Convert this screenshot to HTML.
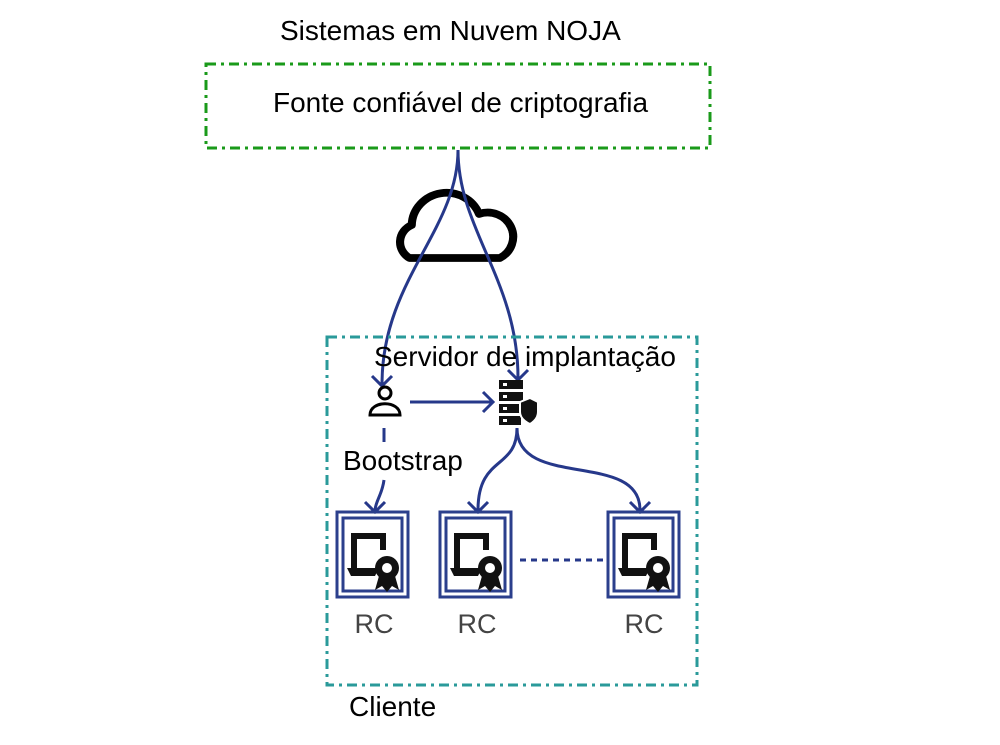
<!DOCTYPE html>
<html><head><meta charset="utf-8"><style>body{margin:0;background:#fff}svg{display:block}text{font-family:"Liberation Sans",sans-serif}</style></head><body>
<svg width="1000" height="745" viewBox="0 0 1000 745">
<defs>
<g id="rc">
<rect x="0" y="0" width="71" height="85" fill="none" stroke="#2b3f8c" stroke-width="3"/>
<rect x="6" y="6" width="59" height="73" fill="none" stroke="#2b3f8c" stroke-width="3"/>
<path d="M17 60 V24 H46 V38" fill="none" stroke="#111" stroke-width="6"/>
<path d="M10 56 H42 L38 64 H14 Z" fill="#111"/>
<circle cx="50" cy="56" r="12" fill="#111"/>
<circle cx="50" cy="56" r="5" fill="#fff"/>
<path d="M42 64 L38 78 L45 74 L50 80 L55 74 L62 78 L58 64Z" fill="#111"/>
</g>
</defs>
<text x="280" y="40" font-size="28">Sistemas em Nuvem NOJA</text>
<rect x="206" y="64" width="504" height="84" fill="none" stroke="#1a9a1a" stroke-width="3" stroke-dasharray="10 5 3 5"/>
<text x="273" y="112" font-size="28">Fonte confiável de criptografia</text>
<path transform="translate(457,258) scale(1.16,1.1) translate(-457,-252)" d="M416 252 A17 17 0 0 1 418 222 A30 30 0 0 1 476 212 A22 22 0 0 1 494 252 Z" fill="none" stroke="#000" stroke-width="7" stroke-linejoin="round"/>
<g fill="none" stroke="#26388a" stroke-width="3" stroke-linejoin="miter">
<path d="M458 150 C458 230 382 280 382 384"/>
<path d="M458 150 C458 230 518 280 518 378"/>
<path d="M410 402 H492"/>
<path d="M384 428 V442 M384 480 C382 495 376 500 375 510"/>
<path d="M517 428 C517 470 478 455 478 510"/>
<path d="M517 428 C517 490 640 450 640 510"/>
<path d="M372 376 L382 386 L392 376"/>
<path d="M508 370 L518 380 L528 370"/>
<path d="M483 392 L493 402 L483 412"/>
<path d="M365 502 L375 512 L385 502"/>
<path d="M468 502 L478 512 L488 502"/>
<path d="M630 502 L640 512 L650 502"/>
</g>
<rect x="327" y="337" width="370" height="348" fill="none" stroke="#2a9a9a" stroke-width="3" stroke-dasharray="10 5 3 5"/>
<text x="374" y="366" font-size="28">Servidor de implantação</text>
<circle cx="385" cy="393" r="6" fill="#fff" stroke="#000" stroke-width="3"/>
<path d="M370 415 C370 400 400 400 400 415 Z" fill="none" stroke="#000" stroke-width="3"/>
<g fill="#111"><rect x="499" y="380" width="24" height="9"/><rect x="499" y="392" width="24" height="9"/><rect x="499" y="404" width="24" height="9"/><rect x="499" y="416" width="22" height="9"/>
<path d="M520 402 L530 398 L538 402 V412 C538 420 530 424 530 424 C530 424 520 420 520 412Z" stroke="#fff" stroke-width="2"/></g>
<g fill="#fff"><rect x="503" y="383" width="4" height="3"/><rect x="503" y="395" width="4" height="3"/><rect x="503" y="407" width="4" height="3"/><rect x="503" y="419" width="4" height="3"/></g>
<text x="343" y="470" font-size="28">Bootstrap</text>
<use href="#rc" x="337" y="512"/><use href="#rc" x="440" y="512"/><use href="#rc" x="608" y="512"/>
<path d="M520 560 H606" stroke="#26388a" stroke-width="3" stroke-dasharray="6 5"/>
<g font-size="27" fill="#444" text-anchor="middle"><text x="374" y="633">RC</text><text x="477" y="633">RC</text><text x="644" y="633">RC</text></g>
<text x="349" y="716" font-size="28">Cliente</text>
</svg>
</body></html>
